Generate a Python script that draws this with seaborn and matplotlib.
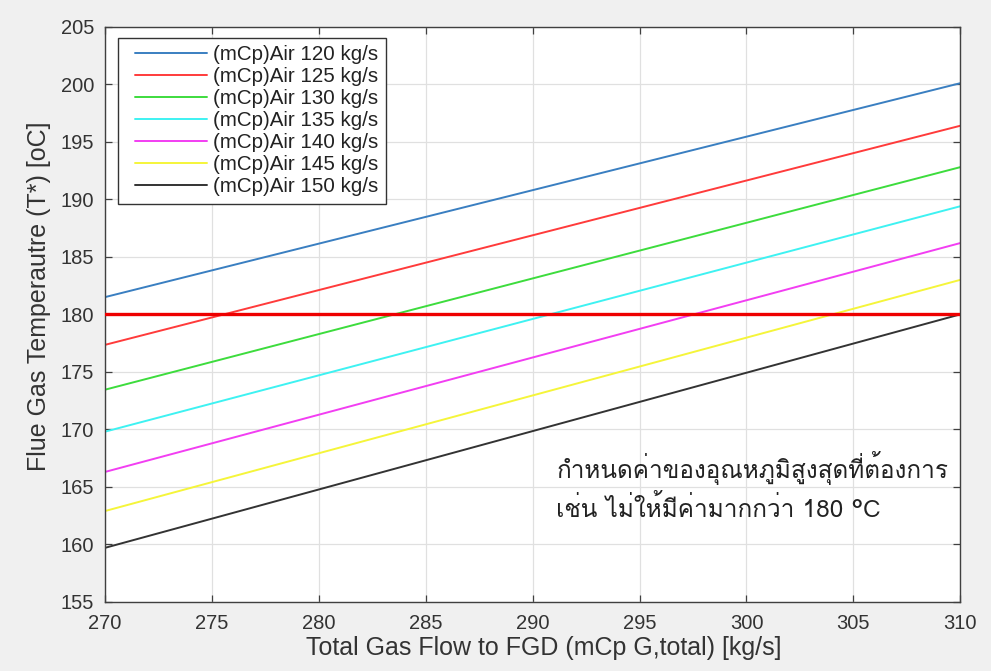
import matplotlib
matplotlib.use("Agg")
import matplotlib.pyplot as plt
import seaborn as sns
import pandas as pd
from matplotlib import font_manager
from matplotlib.lines import Line2D
from matplotlib.legend_handler import HandlerLine2D

x_vals = [270, 310]
air_flows = [120, 125, 130, 135, 140, 145, 150]
start_temps = [181.5, 177.35, 173.45, 169.8, 166.3, 162.9, 159.7]
end_temps = [200.1, 196.4, 192.8, 189.4, 186.2, 183.0, 180.0]
labels = [f"(mCp)Air {a} kg/s" for a in air_flows]
colors = ["#3a7fc1", "#ff3b3b", "#3ddc3d", "#3ef2f2", "#f23ef2", "#f5f53a", "#333333"]
limit_temp = 180
x_ticks = [270, 275, 280, 285, 290, 295, 300, 305, 310]
y_ticks = [155, 160, 165, 170, 175, 180, 185, 190, 195, 200, 205]
note_lines = ["กำหนดค่าของอุณหภูมิสูงสุดที่ต้องการ", "เช่น ไม่ให้มีค่ามากกว่า 180 °C"]

rows = []
for lab, s, e in zip(labels, start_temps, end_temps):
    rows.append({"x": x_vals[0], "T": s, "series": lab})
    rows.append({"x": x_vals[1], "T": e, "series": lab})
df = pd.DataFrame(rows)

# find a font with Thai glyphs
thai_font = None
try:
    from fontTools.ttLib import TTFont
    for f in font_manager.fontManager.ttflist:
        try:
            tt = TTFont(f.fname, fontNumber=0, lazy=True)
            cmap = tt.getBestCmap()
            if cmap and ord("ก") in cmap and ord("ุ") in cmap:
                thai_font = f.name
                break
        except Exception:
            continue
except Exception:
    pass

sns.set_theme(style="whitegrid")
plt.rcParams["font.family"] = ["Liberation Sans", "DejaVu Sans"]

fig = plt.figure(figsize=(9.91, 6.71), dpi=100, facecolor="#f0f0f0")
ax = fig.add_axes([0.106, 0.103, 0.863, 0.857])
ax.set_facecolor("white")

sns.lineplot(data=df, x="x", y="T", hue="series", palette=colors, ax=ax,
             linewidth=1.4, legend=True)
ax.axhline(limit_temp, color="#ee0000", linewidth=2.4, zorder=5)

ax.set_xlim(270, 310)
ax.set_ylim(155, 205)
ax.set_xticks(x_ticks)
ax.set_yticks(y_ticks)
ax.grid(True, color="#e0e0e0", linewidth=0.9)
for sp in ax.spines.values():
    sp.set_color("#404040")
    sp.set_linewidth(1.0)
ax.tick_params(axis="both", direction="in", length=5, width=0.9, color="#404040",
               labelsize=14.5, labelcolor="#333333", top=True, right=True,
               bottom=True, left=True)
ax.tick_params(axis="x", pad=9)
ax.tick_params(axis="y", pad=8)
ax.set_xlabel("Total Gas Flow to FGD (mCp G,total) [kg/s]", fontsize=18, color="#333333", labelpad=2)
ax.set_ylabel("Flue Gas Temperautre (T*) [oC]", fontsize=18, color="#333333")
ax.yaxis.set_label_coords(-0.063, 0.531)
ax.xaxis.label.set_x(0.513)

handles, leg_labels = ax.get_legend_handles_labels()
leg = ax.legend(handles, leg_labels, loc="upper left", fontsize=14.8, frameon=True, fancybox=False,
                edgecolor="#333333", framealpha=1, handlelength=4.0, handletextpad=0.3,
                borderpad=0.35, labelspacing=0.15, borderaxespad=0,
                bbox_to_anchor=(0.015, 0.981),
                handler_map={Line2D: HandlerLine2D(xpad=0.5)})
leg.get_frame().set_linewidth(1.0)
for t in leg.get_texts():
    t.set_color("#222222")

fam = [thai_font, "DejaVu Sans"] if thai_font else ["DejaVu Sans"]
ax.text(291.1, 166.6, note_lines[0], fontsize=17.5, family=fam, color="#222222", va="center", ha="left")
ax.text(291.1, 163.1, note_lines[1], fontsize=17.5, family=fam, color="#222222", va="center", ha="left")

fig.savefig("out.png", dpi=100, facecolor=fig.get_facecolor())
